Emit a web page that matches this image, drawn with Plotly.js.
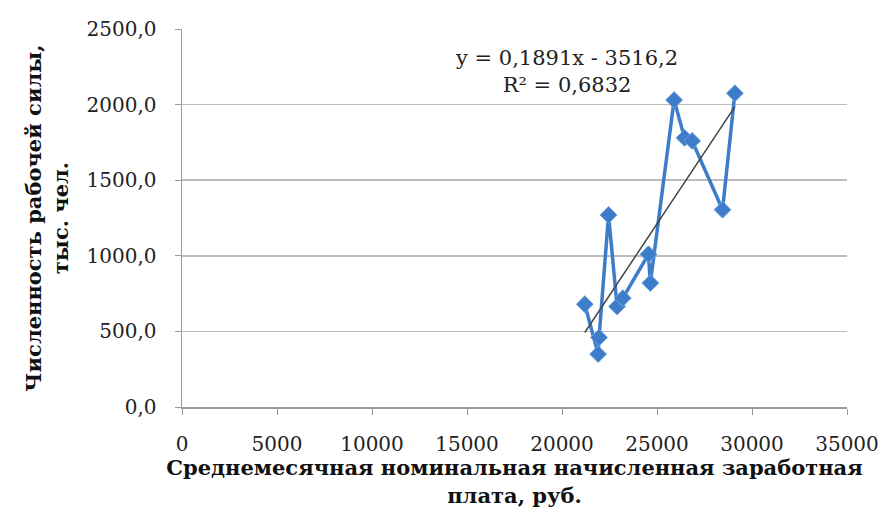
<!DOCTYPE html>
<html><head><meta charset="utf-8">
<script src="https://cdn.plot.ly/plotly-3.0.1.min.js"></script>
<style>html,body{margin:0;padding:0;background:#fff}#chart{width:885px;height:531px}</style>
</head><body><div id="chart"></div>
<script>
const wages = [21200, 21900, 21950, 22450, 22900, 23200, 24550, 24650, 25900, 26450, 26850, 28450, 29100];
const workforce = [680, 350, 460, 1270, 665, 720, 1010, 820, 2030, 1780, 1760, 1305, 2075];
const slope = 0.1891, intercept = -3516.2;
const eqText = "y = 0,1891x - 3516,2";
const r2Text = "R² = 0,6832";
const xTitle = "Среднемесячная номинальная начисленная заработная<br>плата, руб.";
const yTitle = "Численность рабочей силы,<br>тыс. чел.";

const xmin = Math.min(...wages), xmax = Math.max(...wages);
const trendX = [xmin, xmax];
const trendY = trendX.map(x => slope * x + intercept);

const font = "DejaVu Serif, Liberation Serif, serif";
const data = [
  {x: wages, y: workforce, type: 'scatter', mode: 'lines+markers',
   line: {color: '#3d7cc9', width: 3.5},
   marker: {symbol: 'diamond', size: 13, color: '#3d7cc9', line: {color: '#6fa3e0', width: 1}},
   hoverinfo: 'none'},
  {x: trendX, y: trendY, type: 'scatter', mode: 'lines',
   line: {color: '#444444', width: 1.5}, hoverinfo: 'none'}
];
const layout = {
  width: 885, height: 531,
  margin: {l: 182, r: 38, t: 29, b: 124},
  showlegend: false,
  paper_bgcolor: '#fff', plot_bgcolor: '#fff',
  separators: ', ',
  font: {family: font, size: 20, color: '#222'},
  xaxis: {range: [0, 35000], tickvals: [0,5000,10000,15000,20000,25000,30000,35000],
    tickformat: 'd', showgrid: false, zeroline: false, showline: true, linecolor: '#999', linewidth: 1.5,
    ticks: 'outside', ticklen: 6, tickcolor: '#999', ticklabelstandoff: 12,
    tickfont: {family: font, size: 20, color: '#222'},
    title: {text: xTitle, font: {family: font, size: 21, color: '#111', weight: 'bold'}, standoff: 0}},
  yaxis: {range: [0, 2500], tickvals: [0,500,1000,1500,2000,2500], tickformat: '.1f',
    showgrid: true, gridcolor: '#bdbdbd', gridwidth: 1.5, zeroline: false,
    showline: true, linecolor: '#999', linewidth: 1.5,
    ticks: 'outside', ticklen: 6, tickcolor: '#999', ticklabelstandoff: 14,
    tickfont: {family: font, size: 20, color: '#222'},
    title: {text: yTitle, font: {family: font, size: 21, color: '#111', weight: 'bold'}, standoff: 12}},
  annotations: [
    {xref: 'paper', yref: 'paper', x: 0.578, y: 0.888, text: eqText + '<br>' + r2Text,
     showarrow: false, xanchor: 'center', yanchor: 'middle', align: 'center',
     font: {family: font, size: 21, color: '#222'}}
  ]
};
Plotly.newPlot('chart', data, layout, {staticPlot: true, displayModeBar: false});
</script></body></html>
